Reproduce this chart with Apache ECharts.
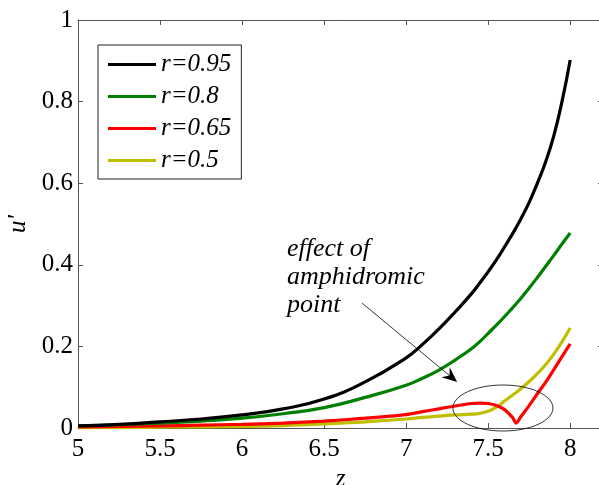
<!DOCTYPE html>
<html>
<head>
<meta charset="utf-8">
<script src="https://cdn.jsdelivr.net/npm/echarts@6/dist/echarts.min.js"></script>
<style>
  html, body { margin: 0; padding: 0; background: #ffffff; }
  #main { width: 599px; height: 485px; }
</style>
</head>
<body>
<div id="main"></div>
<script>
// Axial coordinate z shared by all four curves
const zGrid = [5.0, 5.25, 5.5, 5.75, 6.0, 6.25, 6.5, 6.75, 7.0, 7.1, 7.2, 7.3, 7.4, 7.45,
               7.5, 7.55, 7.6, 7.65, 7.67, 7.7, 7.75, 7.8, 7.85, 7.9, 7.95, 8.0];

// u' for each value of r
const uR095 = [0.005, 0.009, 0.015, 0.022, 0.032, 0.047, 0.071, 0.113, 0.172, 0.205, 0.243, 0.285, 0.330, 0.356,
               0.383, 0.412, 0.444, 0.477, 0.491, 0.513, 0.553, 0.600, 0.652, 0.716, 0.800, 0.902];
const uR080 = [0.005, 0.008, 0.012, 0.017, 0.024, 0.035, 0.050, 0.075, 0.105, 0.122, 0.142, 0.167, 0.195, 0.212,
               0.232, 0.252, 0.273, 0.295, 0.304, 0.318, 0.343, 0.369, 0.396, 0.423, 0.451, 0.478];
const uR065 = [0.003, 0.004, 0.005, 0.007, 0.009, 0.012, 0.017, 0.024, 0.033, 0.040, 0.047, 0.054, 0.060, 0.061,
               0.060, 0.055, 0.045, 0.025, 0.012, 0.028, 0.055, 0.084, 0.112, 0.143, 0.175, 0.206];
const uR050 = [0.001, 0.001, 0.002, 0.003, 0.004, 0.006, 0.010, 0.015, 0.022, 0.026, 0.029, 0.032, 0.034, 0.036,
               0.041, 0.051, 0.066, 0.081, 0.087, 0.097, 0.114, 0.133, 0.155, 0.181, 0.211, 0.245];

const seriesNames = ['r=0.95', 'r=0.8', 'r=0.65', 'r=0.5'];
const seriesValues = [uR095, uR080, uR065, uR050];
const seriesColors = ['#000000', '#008000', '#ff0000', '#bfbf00'];
const seriesSmooth = [0.5, 0.5, 0.3, 0.4];

const annotationLines = ['effect of', 'amphidromic', 'point'];

const FONT = '"Liberation Serif", "Times New Roman", serif';
const AXIS_COLOR = '#555555';

const chart = echarts.init(document.getElementById('main'), null, { renderer: 'canvas' });

const tickCommon = { show: true, inside: true, length: 5, lineStyle: { color: AXIS_COLOR, width: 1 } };
const lineCommon = { show: true, onZero: false, lineStyle: { color: AXIS_COLOR, width: 1 } };

const option = {
  animation: false,
  backgroundColor: '#ffffff',
  grid: { left: 78, top: 20, width: 525, height: 408, containLabel: false, outerBoundsMode: 'none' },
  legend: {
    show: true,
    orient: 'vertical',
    left: 98,
    top: 45,
    padding: [7, 10, 6, 10],
    itemGap: 7,
    itemWidth: 48,
    itemHeight: 3,
    icon: 'rect',
    borderColor: '#222222',
    borderWidth: 1,
    backgroundColor: '#ffffff',
    data: seriesNames,
    textStyle: { fontFamily: FONT, fontStyle: 'italic', fontSize: 25, color: '#000' }
  },
  xAxis: [
    {
      type: 'value', position: 'bottom', min: 5, max: 8.2, interval: 0.5,
      name: 'z', nameLocation: 'middle', nameGap: 45,
      nameTextStyle: { fontFamily: FONT, fontStyle: 'italic', fontSize: 25, color: '#000', verticalAlign: 'middle' },
      axisLine: lineCommon, axisTick: tickCommon,
      axisLabel: { fontFamily: FONT, fontSize: 25, color: '#000', margin: 9, showMaxLabel: false,
                   formatter: (v) => String(v) },
      splitLine: { show: false }
    },
    {
      type: 'value', position: 'top', min: 5, max: 8.2, interval: 0.5,
      axisLine: lineCommon, axisTick: tickCommon,
      axisLabel: { show: false }, splitLine: { show: false }
    }
  ],
  yAxis: [
    {
      type: 'value', position: 'left', min: 0, max: 1, interval: 0.2,
      name: "u'", nameLocation: 'middle', nameGap: 46,
      nameTextStyle: { fontFamily: FONT, fontStyle: 'italic', fontSize: 25, color: '#000' },
      axisLine: lineCommon, axisTick: tickCommon,
      axisLabel: { fontFamily: FONT, fontSize: 25, color: '#000', margin: 5,
                   formatter: (v) => String(v) },
      splitLine: { show: false }
    },
    {
      type: 'value', position: 'right', min: 0, max: 1, interval: 0.2,
      axisLine: lineCommon, axisTick: tickCommon,
      axisLabel: { show: false }, splitLine: { show: false }
    }
  ],
  series: seriesNames.map((name, i) => ({
    name: name,
    type: 'line',
    xAxisIndex: 0,
    yAxisIndex: 0,
    data: zGrid.map((z, k) => [z, seriesValues[i][k]]),
    smooth: seriesSmooth[i],
    symbol: 'none',
    z: 10 - i,
    lineStyle: { color: seriesColors[i], width: 3.2 },
    itemStyle: { color: seriesColors[i] }
  }))
};

chart.setOption(option);

// Annotation: label, arrow and ellipse, anchored in data coordinates
const toPx = (z, u) => chart.convertToPixel({ xAxisIndex: 0, yAxisIndex: 0 }, [z, u]);

const textAnchor = toPx(6.274, 0.439);
const arrowFrom = toPx(6.732, 0.306);
const arrowTo = toPx(7.311, 0.113);
const ellipseCenter = toPx(7.59, 0.049);

const dx = arrowTo[0] - arrowFrom[0];
const dy = arrowTo[1] - arrowFrom[1];
const len = Math.sqrt(dx * dx + dy * dy);
const ux = dx / len, uy = dy / len;
const headLen = 15, headHalf = 6.5, notch = 10;
const baseX = arrowTo[0] - ux * headLen, baseY = arrowTo[1] - uy * headLen;
const notchX = arrowTo[0] - ux * notch, notchY = arrowTo[1] - uy * notch;
const headPoints = [
  [arrowTo[0], arrowTo[1]],
  [baseX - uy * headHalf, baseY + ux * headHalf],
  [notchX, notchY],
  [baseX + uy * headHalf, baseY - ux * headHalf]
];

const lineSpacing = 28;
const graphics = annotationLines.map((t, i) => ({
  type: 'text',
  x: textAnchor[0],
  y: textAnchor[1] + i * lineSpacing,
  style: {
    text: t,
    fontFamily: FONT,
    fontStyle: 'italic',
    fontSize: 26,
    fill: '#000',
    textAlign: 'left',
    textVerticalAlign: 'middle'
  },
  z: 100
}));

graphics.push({
  type: 'line',
  shape: { x1: arrowFrom[0], y1: arrowFrom[1], x2: notchX, y2: notchY },
  style: { stroke: '#000', lineWidth: 0.8 },
  z: 100
});
graphics.push({
  type: 'polygon',
  shape: { points: headPoints },
  style: { fill: '#000', stroke: null },
  z: 100
});
graphics.push({
  type: 'ellipse',
  shape: { cx: ellipseCenter[0], cy: ellipseCenter[1], rx: 50, ry: 23 },
  style: { fill: null, stroke: '#000', lineWidth: 0.8 },
  z: 100
});

chart.setOption({ graphic: graphics });
</script>
</body>
</html>
